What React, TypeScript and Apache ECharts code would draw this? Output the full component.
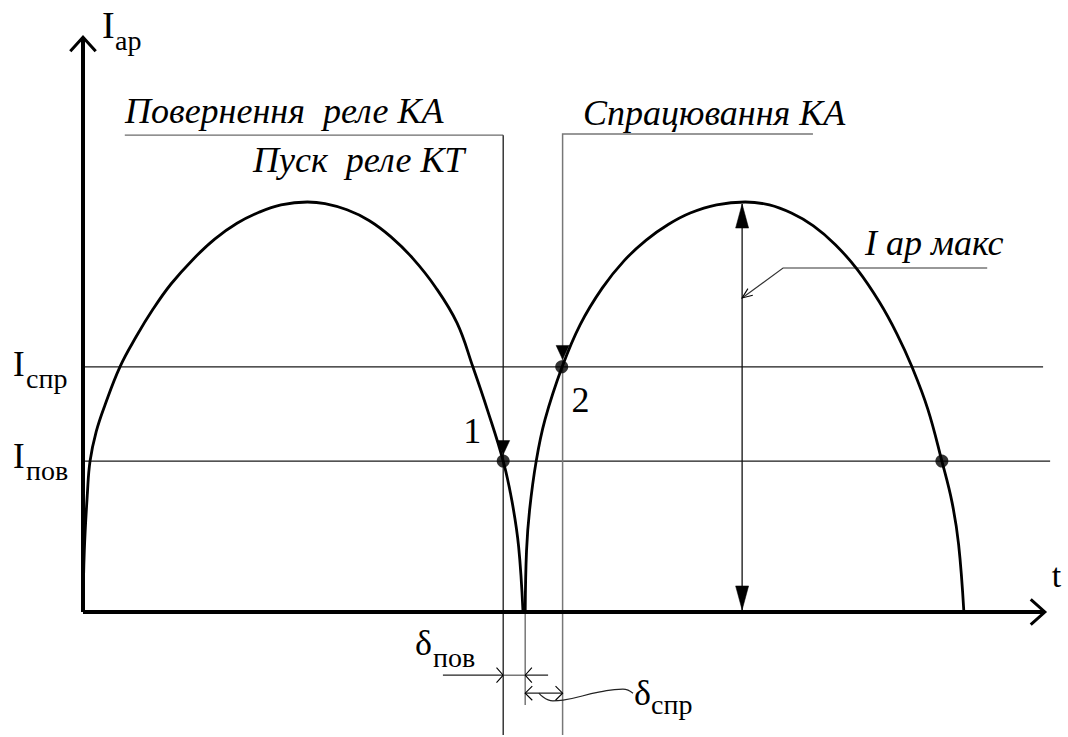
import React, { useEffect, useRef } from "react";
import * as echarts from "echarts";

// Rectified relay current: two half-waves. t in ms, I relative to I ар макс.
const firstWaveT = [0, 0.03, 0.1, 0.16, 0.3, 0.5, 0.84, 1.2, 1.6, 2.0, 2.5, 3.0, 3.5, 4.0, 4.5, 5.1, 5.5, 6.0, 6.5, 7.0, 7.5, 8.0, 8.5, 8.86, 9.2, 9.55, 9.75, 9.9, 10.0];
const firstWaveI = [0, 0.15, 0.29, 0.368, 0.44, 0.505, 0.598, 0.67, 0.74, 0.8, 0.86, 0.91, 0.948, 0.975, 0.993, 1.0, 0.996, 0.981, 0.955, 0.915, 0.862, 0.794, 0.705, 0.598, 0.49, 0.368, 0.27, 0.16, 0];
const secondWaveT = [10.05, 10.08, 10.15, 10.3, 10.5, 10.89, 11.3, 11.8, 12.3, 12.8, 13.3, 13.8, 14.4, 15.05, 15.6, 16.1, 16.6, 17.1, 17.6, 18.1, 18.5, 18.84, 19.2, 19.52, 19.75, 19.9, 20.02];
const secondWaveI = [0, 0.149, 0.249, 0.368, 0.469, 0.598, 0.701, 0.79, 0.857, 0.907, 0.945, 0.973, 0.993, 1.0, 0.993, 0.973, 0.942, 0.896, 0.835, 0.756, 0.678, 0.598, 0.495, 0.368, 0.268, 0.165, 0];

// Relay thresholds (operate / return)
const I_SPR = 0.598;
const I_POV = 0.368;

// Characteristic instants, ms
const T_POV = 9.55; // point 1: return of KA, start of KT
const T_ZERO = 10.05; // start of the second half-wave
const T_SPR = 10.9; // point 2: operation of KA
const T_MAX = 14.98; // where I ар макс is dimensioned
const T_THIRD = 19.52; // return on the second half-wave

// Axis extents
const T_AXIS_END = 21.86;
const I_AXIS_END = 1.402;

// Canvas and grid layout
const WIDTH = 1068;
const HEIGHT = 737;
const GRID = { left: 3.8, right: 8.2, top: 17.5, bottom: 2 };
const X_RANGE = [-1.8, 22.2];
const Y_RANGE = [-0.3, 1.45];

// Same linear mapping as the grid's value axes, used to anchor captions
function toPx(t: number, i: number) {
  const w = WIDTH - GRID.left - GRID.right;
  const h = HEIGHT - GRID.top - GRID.bottom;
  return [
    GRID.left + ((t - X_RANGE[0]) / (X_RANGE[1] - X_RANGE[0])) * w,
    HEIGHT - GRID.bottom - ((i - Y_RANGE[0]) / (Y_RANGE[1] - Y_RANGE[0])) * h,
  ];
}

const zip = (a: number[], b: number[]) => a.map((v, k) => [v, b[k]]);

const SERIF = "Liberation Serif";
const SERIF_ITALIC = "Times New Roman, Liberation Serif, serif";

function poly(data: number[][], width: number, color: string, z = 2, smooth: number | boolean = false) {
  return {
    type: "line",
    data,
    symbol: "none",
    smooth,
    silent: true,
    z,
    lineStyle: { width, color, cap: "butt", join: "miter" },
  };
}

// Open chevron arrows: [t, I, direction deg (screen), half angle deg, length px]
const openArrows = [
  [T_AXIS_END, 0, 0, 42, 19],
  [0, I_AXIS_END, -90, 42, 19],
  [T_POV, -0.154, 0, 48, 10],
  [T_ZERO, -0.154, 180, 48, 10],
  [T_ZERO, -0.198, 180, 45, 10],
  [T_SPR, -0.198, 0, 45, 10],
  [T_MAX, 0.766, 143.8, 22, 11],
];

// Filled arrowheads: [t, I, direction deg (screen), width px, length px]
const solidArrows = [
  [T_MAX, 0.995, -90, 13, 24],
  [T_MAX, 0.005, 90, 13, 24],
  [T_POV, 0.384, 90, 13, 14],
  [T_SPR, 0.616, 90, 13, 14],
];

function text(x: number, baseline: number, s: string, size: number, italic = false, align = "left") {
  return {
    type: "text",
    x,
    y: baseline - 0.3375 * size,
    silent: true,
    z: 10,
    style: {
      text: s,
      font: italic ? `italic ${size}px ${SERIF_ITALIC}` : `${size}px ${SERIF}`,
      fill: "#000",
      align,
      verticalAlign: "middle",
      legacy: false,
    },
  };
}

function captions() {
  const yTop = toPx(0, I_AXIS_END);
  const ySpr = toPx(0, I_SPR)[1];
  const yPov = toPx(0, I_POV)[1];
  const p1 = toPx(T_POV, I_POV);
  const p2 = toPx(T_SPR, I_SPR);
  const xEnd = toPx(T_AXIS_END, 0);
  return [
    // event captions (italic) first
    text(125, 123, "Повернення  реле КА", 36, true),
    text(253, 172, "Пуск  реле КТ", 36, true),
    text(583, 125, "Спрацювання КА", 36, true),
    text(865, 255, "I ар макс", 36, true),
    // axis and threshold symbols
    text(yTop[0] + 19, yTop[1] + 1, "I", 38),
    text(yTop[0] + 32, yTop[1] + 13, "ар", 28),
    text(13, ySpr + 9, "I", 35),
    text(26, ySpr + 21, "спр", 28),
    text(13, yPov + 7, "I", 35),
    text(26, yPov + 19, "пов", 28),
    text(p1[0] - 31, p1[1] - 18, "1", 36, false, "center"),
    text(p2[0] + 18, p2[1] + 45, "2", 36, false, "center"),
    text(xEnd[0] + 7, xEnd[1] - 25, "t", 34),
    text(415, 655, "δ", 36),
    text(433, 667, "пов", 28),
    text(634, 705, "δ", 36),
    text(651, 714, "спр", 28),
  ];
}

const option = {
  animation: false,
  backgroundColor: "#ffffff",
  grid: GRID,
  xAxis: { type: "value", min: X_RANGE[0], max: X_RANGE[1], show: false },
  yAxis: { type: "value", min: Y_RANGE[0], max: Y_RANGE[1], show: false },
  graphic: captions(),
  series: [
    // axes
    poly([[0, 0], [T_AXIS_END, 0]], 4, "#000", 3),
    poly([[0, 0], [0, I_AXIS_END]], 4, "#000", 3),
    // thresholds
    poly([[0, I_SPR], [21.82, I_SPR]], 1.3, "#1a1a1a"),
    poly([[0, I_POV], [21.98, I_POV]], 1.3, "#1a1a1a"),
    // leader lines of the event captions
    poly([[0.95, 1.163], [T_POV, 1.163]], 1.4, "#6b6b6b"),
    poly([[T_POV, 1.163], [T_POV, -0.3]], 1.3, "#1a1a1a"),
    poly([[16.59, 1.166], [T_SPR, 1.166], [T_SPR, -0.3]], 1.5, "#777"),
    poly([[T_ZERO, 0], [T_ZERO, -0.227]], 1.5, "#777"),
    // δ dimensions
    poly([[8.18, -0.154], [T_POV, -0.154]], 1.2, "#222"),
    poly([[T_POV, -0.154], [T_ZERO, -0.154]], 1.5, "#777"),
    poly([[T_ZERO, -0.154], [10.57, -0.154]], 1.2, "#222"),
    poly([[T_ZERO, -0.198], [T_SPR, -0.198]], 1.2, "#222"),
    poly([[10.36, -0.198], [10.68, -0.217], [10.91, -0.215], [11.75, -0.195], [12.27, -0.188], [12.5, -0.198]], 1.2, "#222", 2, 0.5),
    // I ар макс dimension and its leader
    poly([[T_MAX, 0.995], [T_MAX, 0.005]], 1.3, "#111"),
    poly([[20.55, 0.839], [15.91, 0.839], [T_MAX, 0.766]], 1.2, "#333"),
    // current half-waves
    poly(zip(firstWaveT, firstWaveI), 2.8, "#000", 4, 0.4),
    poly(zip(secondWaveT, secondWaveI), 2.8, "#000", 4, 0.4),
    {
      type: "custom",
      silent: true,
      z: 5,
      data: openArrows,
      renderItem: (params: any, api: any) => {
        const p = api.coord([api.value(0), api.value(1)]);
        const dir = (api.value(2) * Math.PI) / 180;
        const half = (api.value(3) * Math.PI) / 180;
        const len = api.value(4);
        const a1 = dir + Math.PI + half;
        const a2 = dir + Math.PI - half;
        return {
          type: "polyline",
          shape: {
            points: [
              [p[0] + len * Math.cos(a1), p[1] + len * Math.sin(a1)],
              [p[0], p[1]],
              [p[0] + len * Math.cos(a2), p[1] + len * Math.sin(a2)],
            ],
          },
          style: { stroke: "#000", lineWidth: len > 15 ? 3 : 1.1, fill: null },
        };
      },
    },
    {
      type: "custom",
      silent: true,
      z: 6,
      data: solidArrows,
      renderItem: (params: any, api: any) => {
        const p = api.coord([api.value(0), api.value(1)]);
        const dir = (api.value(2) * Math.PI) / 180;
        const w = api.value(3) / 2;
        const len = api.value(4);
        const bx = p[0] - len * Math.cos(dir);
        const by = p[1] - len * Math.sin(dir);
        const nx = -Math.sin(dir);
        const ny = Math.cos(dir);
        return {
          type: "polygon",
          shape: {
            points: [
              [p[0], p[1]],
              [bx + w * nx, by + w * ny],
              [bx - w * nx, by - w * ny],
            ],
          },
          style: { fill: "#000", stroke: "#000", lineWidth: 0.5 },
        };
      },
    },
    {
      type: "scatter",
      silent: true,
      z: 7,
      symbol: "circle",
      symbolSize: 13,
      itemStyle: { color: "#000" },
      data: [
        [T_POV, I_POV],
        [T_SPR - 0.02, I_SPR],
        [T_THIRD, I_POV],
      ],
    },
  ],
};

export default function App() {
  const ref = useRef<HTMLDivElement>(null);

  useEffect(() => {
    const el = ref.current;
    if (!el) return;
    const chart = echarts.init(el, null, { renderer: "svg" });
    chart.setOption(option as any);
    return () => chart.dispose();
  }, []);

  return (
    <div
      ref={ref}
      style={{ position: "fixed", left: 0, top: 0, width: WIDTH + "px", height: HEIGHT + "px", background: "#fff" }}
    />
  );
}
